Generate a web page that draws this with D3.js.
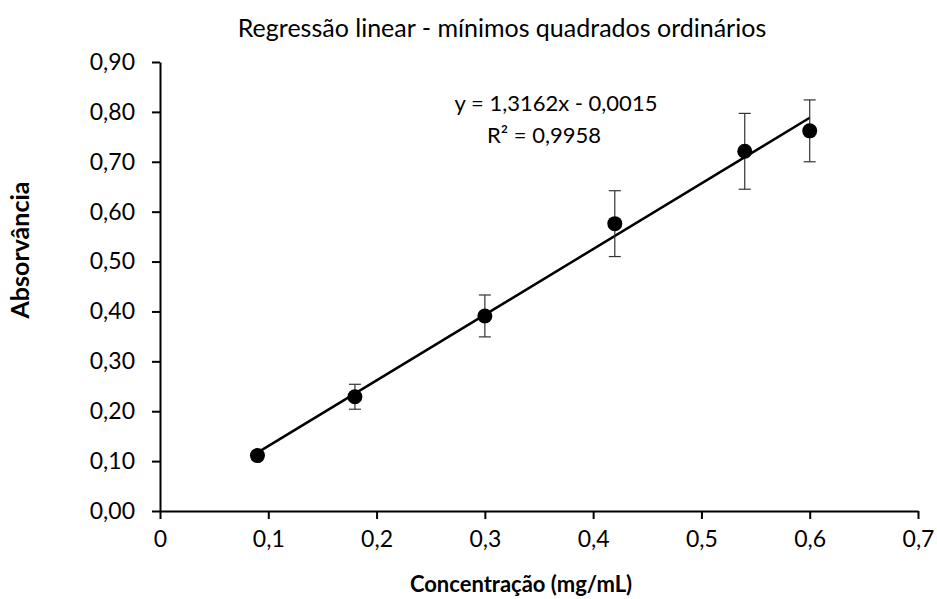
<!DOCTYPE html>
<html lang="pt">
  <head>
    <meta charset="UTF-8">
    <title>Regressão linear</title>
    <style>
body {margin: 0; background: #fff;}
text {font-family: Lato, "Open Sans", sans-serif; fill: #000;}
</style>
  </head>
  <body>
<div id="chart"></div>
<script src="https://d3js.org/d3.v7.min.js"></script>
<script>

// data
var concentracao = [0.09, 0.18, 0.30, 0.42, 0.54, 0.60];
var absorvancia = [0.111, 0.229, 0.391, 0.576, 0.721, 0.762];
var desvio = [0.008, 0.025, 0.042, 0.066, 0.076, 0.062];
var xTicks = [0, 0.1, 0.2, 0.3, 0.4, 0.5, 0.6, 0.7];
var yTicks = [0, 0.1, 0.2, 0.3, 0.4, 0.5, 0.6, 0.7, 0.8, 0.9];
var slope = 1.3162, intercept = -0.0015;

var width = 937, height = 599;

var svg = d3.select("#chart")
  .append("svg")
    .attr("width", width)
    .attr("height", height);

var x = d3.scaleLinear().domain([0, 0.7]).range([160, 918]);
var y = d3.scaleLinear().domain([0, 0.9]).range([511, 62]);

var comma = function(fmt) {
  return function(d) { return d3.format(fmt)(d).replace(".", ","); };
};

// Y axis
var yAxis = svg.append("g")
  .attr("transform", "translate(160,0)")
  .call(d3.axisLeft(y).tickValues(yTicks).tickFormat(comma(".2f")).tickSize(8).tickSizeOuter(0).tickPadding(17));
yAxis.select(".domain").attr("stroke-width", 2);
yAxis.selectAll(".tick line").attr("stroke-width", 2);
yAxis.selectAll("text").attr("font-size", 23).style("font-family", "Lato");

// X axis
var xAxis = svg.append("g")
  .attr("transform", "translate(0,511)")
  .call(d3.axisBottom(x).tickValues(xTicks).tickFormat(function(d) { return d === 0 ? "0" : comma(".1f")(d); }).tickSize(8).tickSizeOuter(0).tickPadding(12));
xAxis.select(".domain").attr("stroke-width", 2);
xAxis.selectAll(".tick line").attr("stroke-width", 2);
xAxis.selectAll("text").attr("font-size", 23).style("font-family", "Lato");

// trendline
var xmin = d3.min(concentracao), xmax = d3.max(concentracao);
svg.append("line")
  .attr("x1", x(xmin)).attr("y1", y(slope * xmin + intercept))
  .attr("x2", x(xmax)).attr("y2", y(slope * xmax + intercept))
  .attr("stroke", "#000")
  .attr("stroke-width", 2.5);

// error bars
var err = svg.append("g").attr("stroke", "#333").attr("stroke-width", 1.2);
concentracao.forEach(function(c, i) {
  var top = y(absorvancia[i] + desvio[i]), bot = y(absorvancia[i] - desvio[i]);
  err.append("line").attr("x1", x(c)).attr("x2", x(c)).attr("y1", top).attr("y2", bot);
  err.append("line").attr("x1", x(c) - 6).attr("x2", x(c) + 6).attr("y1", top).attr("y2", top);
  err.append("line").attr("x1", x(c) - 6).attr("x2", x(c) + 6).attr("y1", bot).attr("y2", bot);
});

// points
svg.selectAll("circle")
  .data(concentracao)
  .enter()
  .append("circle")
    .attr("cx", function(d) { return x(d); })
    .attr("cy", function(d, i) { return y(absorvancia[i]); })
    .attr("r", 7.5)
    .attr("fill", "#000");

// titles
svg.append("text")
  .attr("x", 502).attr("y", 37)
  .attr("text-anchor", "middle")
  .attr("font-size", 25)
  .text("Regressão linear - mínimos quadrados ordinários");

svg.append("text")
  .attr("x", 521).attr("y", 592)
  .attr("text-anchor", "middle")
  .attr("font-size", 22)
  .attr("font-weight", "bold")
  .text("Concentração (mg/mL)");

svg.append("text")
  .attr("transform", "translate(29,250) rotate(-90)")
  .attr("text-anchor", "middle")
  .attr("font-size", 25)
  .attr("font-weight", "bold")
  .text("Absorvância");

// equation
svg.append("text")
  .attr("x", 556).attr("y", 111)
  .attr("text-anchor", "middle")
  .attr("font-size", 22)
  .text("y = 1,3162x - 0,0015");
svg.append("text")
  .attr("x", 544).attr("y", 143)
  .attr("text-anchor", "middle")
  .attr("font-size", 22)
  .text("R² = 0,9958");

</script>
  </body>
</html>
